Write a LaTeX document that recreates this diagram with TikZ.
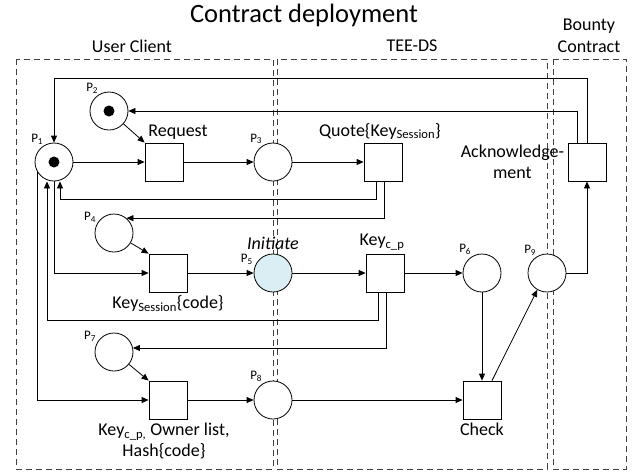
\documentclass[tikz,border=0pt]{standalone}
\usepackage{fontspec}
\setmainfont{Carlito}
\usepackage{tikz}
\usetikzlibrary{positioning}
\usetikzlibrary{arrows.meta}

\definecolor{initblue}{RGB}{218,238,243}

\begin{document}
\begin{tikzpicture}[x=1pt,y=-1pt,
    place/.style={circle,draw,fill=white,minimum size=38pt,inner sep=0pt,line width=0.8pt},
    trans/.style={rectangle,draw,fill=white,minimum size=38pt,inner sep=0pt,line width=0.8pt},
    region/.style={draw=black!75,dash pattern=on 6pt off 4pt,line width=0.9pt},
    lbl/.style={font=\fontsize{18}{21.5}\selectfont,align=center},
    plbl/.style={font=\fontsize{13}{15}\selectfont,inner sep=1pt}]
    \useasboundingbox (0,0) rectangle (634,475);
    %Regions
    \draw[region] (16,59) rectangle (273,469);
    \draw[region] (277,59) rectangle (547,469);
    \draw[region] (553,59) rectangle (626,469);
    \node(title)[font=\fontsize{26.5}{30}\selectfont] at (304,15) {Contract deployment};
    \node(user)[lbl] at (132,46) {User Client};
    \node(tee)[lbl] at (412,46) {TEE-DS};
    \node(bounty)[lbl] at (589,36) {Bounty\\Contract};
    %Places and transitions
    \begin{scope}[on grid]
        \node(p1)[place,label={[plbl]120:P\textsubscript{1}}] at (54,162) {};
        \node(req)[trans,right=110pt of p1] {};
        \node(p2)[place,label={[plbl]120:P\textsubscript{2}},above right=51pt and 55pt of p1] {};
        \node(p3)[place,label={[plbl]120:P\textsubscript{3}},right=109pt of req] {};
        \node(quote)[trans,right=110pt of p3] {};
        \node(ack)[trans,right=204pt of quote] {};
        \node(p5)[place,fill=initblue,label={[plbl,label distance=1pt]160:P\textsubscript{5}},below=111pt of p3] {};
        \node(tkey)[trans,left=105pt of p5] {};
        \node(p4)[place,label={[plbl]150:P\textsubscript{4}},above left=40pt and 54pt of tkey] {};
        \node(kcp)[trans,right=112pt of p5] {};
        \node(p6)[place,label={[plbl]120:P\textsubscript{6}},right=97pt of kcp] {};
        \node(p9)[place,label={[plbl]120:P\textsubscript{9}},right=65pt of p6] {};
        \node(p8)[place,label={[plbl]120:P\textsubscript{8}},below=127pt of p5] {};
        \node(town)[trans,left=105pt of p8] {};
        \node(p7)[place,label={[plbl]150:P\textsubscript{7}},above left=48pt and 54pt of town] {};
        \node(check)[trans,right=209pt of p8] {};
    \end{scope}
    %Tokens
    \fill (p1.center) circle (5.5pt);
    \fill (p2.center) circle (5.5pt);
    %Labels
    \begin{scope}[every node/.style={lbl}]
        \node(reqlbl)[above=0pt of req,xshift=14pt] {Request};
        \node(quotelbl)[above=0pt of quote,xshift=-3pt] {Quote\{Key\textsubscript{Session}\}};
        \node(acklbl)[left=0pt of ack] {Acknowledge-\\ment};
        \node(initlbl)[above=0pt of p5,inner ysep=1pt,yshift=3pt] {\textit{Initiate}};
        \node(kcplbl)[above=0pt of kcp,xshift=-3pt] {Key\textsubscript{c\_p}};
        \node(tkeylbl)[below=0pt of tkey] {Key\textsubscript{Session}\{code\}};
        \node(townlbl)[below=0pt of town,xshift=-4pt] {Key\textsubscript{c\_p,} Owner list,\\Hash\{code\}};
        \node(checklbl)[below=0pt of check] {Check};
    \end{scope}
    %Lines
    \begin{scope}[>={Triangle[length=7pt,width=6pt]},line width=0.8pt]
        \draw[->] (p1) -- (req);
        \draw[->] (p2) -- (req.north west);
        \draw[->] (req) -- (p3);
        \draw[->] (p3) -- (quote);
        \draw[->] (ack.north) -- ++(0,-64) -| (p1);
        \draw[->] ([xshift=-10pt]ack.north) |- (p2);
        \draw[->] ([xshift=-7pt]quote.south) -- ++(0,18) -| ([xshift=6pt]p1.south);
        \draw[->] ([xshift=1pt]quote.south) |- (p4.50);
        \draw[->] (p1.south) |- (tkey);
        \draw[->] (p4) -- (tkey.north west);
        \draw[->] (tkey) -- (p5);
        \draw[->] (p5) -- (kcp);
        \draw[->] (kcp) -- (p6);
        \draw[->] ([xshift=-7pt]kcp.south) -- ++(0,28) -| ([xshift=-7pt]p1.south);
        \draw[->] ([xshift=1pt]kcp.south) |- (p7.12);
        \draw[->] (p1.210) |- (town);
        \draw[->] (p7) -- (town.north west);
        \draw[->] (town) -- (p8);
        \draw[->] (p8) -- (check);
        \draw[->] (p6) -- (check);
        \draw[->] ([xshift=10pt]check.north) -- (p9.240);
        \draw[->] (p9) -| (ack);
    \end{scope}
\end{tikzpicture}
\end{document}
